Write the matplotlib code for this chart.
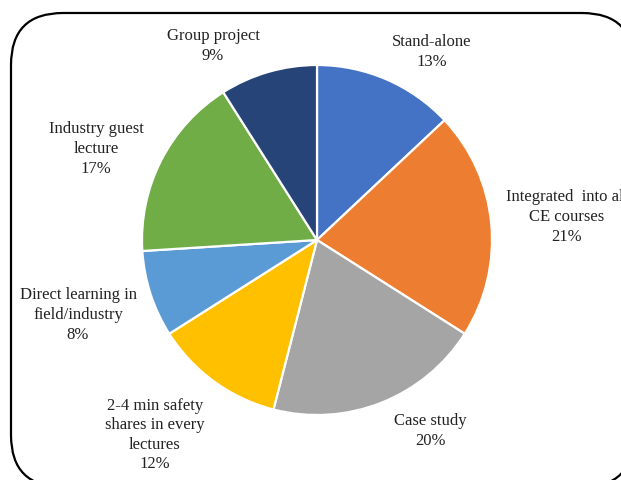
import matplotlib.pyplot as plt
from matplotlib.patches import FancyBboxPatch

# share of respondents per delivery method
labels = ["Stand-alone", "Integrated  into all\nCE courses", "Case study",
          "2-4 min safety\nshares in every\nlectures", "Direct learning in\nfield/industry",
          "Industry guest\nlecture", "Group project"]
values = [13, 21, 20, 12, 8, 17, 9]
colors = ["#4472C4", "#ED7D31", "#A5A5A5", "#FFC000", "#5B9BD5", "#70AD47", "#264478"]

# label centres in pixels (x, y from top)
label_pos = [(432, 52), (567, 217), (430, 431), (155, 435), (78, 315), (96, 149), (213, 46)]

W, H = 621, 481
DPI = 100
fig = plt.figure(figsize=(W / DPI, H / DPI), dpi=DPI)
plt.rcParams['font.family'] = ['Liberation Serif', 'DejaVu Serif']

# rounded frame, laid out in inches so the corners stay circular;
# a white fill keeps agg from clipping the outline along the canvas edge
left, right, top, bottom = 11, 634, 14, 488
frame = FancyBboxPatch((left / DPI, (H - bottom) / DPI), (right - left) / DPI,
                       (bottom - top) / DPI,
                       boxstyle="round,pad=0,rounding_size=0.52",
                       transform=fig.dpi_scale_trans, facecolor="white",
                       edgecolor="black", linewidth=1.6, zorder=-1)
fig.add_artist(frame)

cx, cy, r = 317, 241, 175
ax = fig.add_axes([(cx - r) / W, (H - cy - r) / H, 2 * r / W, 2 * r / H])
ax.pie(values, colors=colors, startangle=90, counterclock=False,
       wedgeprops=dict(edgecolor="white", linewidth=1.6))
ax.set_xlim(-1, 1)
ax.set_ylim(-1, 1)
ax.axis("off")

for lab, v, (x, y) in zip(labels, values, label_pos):
    fig.text(x / W, 1 - y / H, f"{lab}\n{v}%", ha="center", va="center",
             fontsize=12, linespacing=1.3, color="#222222")

fig.savefig("out.png", dpi=DPI)
